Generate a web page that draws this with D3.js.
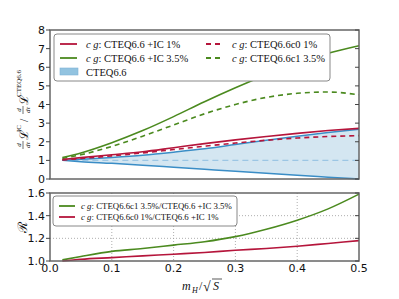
<!DOCTYPE html>
<html>
<head>
<meta charset="utf-8">
<script src="https://cdn.jsdelivr.net/npm/d3@7"></script>
<style>
  body { margin: 0; background: #fff; }
  svg { display: block; }
</style>
</head>
<body>
<div id="svgDiv"></div>
<script>
// x = m_H / sqrt(S)
var xValues = [0.02, 0.05, 0.1, 0.15, 0.2, 0.25, 0.3, 0.35, 0.4, 0.45, 0.5];

// top panel: d/dtau L ratios
var icFour = [1.15, 1.4, 1.95, 2.6, 3.35, 4.15, 4.9, 5.6, 6.25, 6.75, 7.15];   // CTEQ6.6 +IC 3.5%
var c1Four = [1.1, 1.3, 1.75, 2.3, 2.9, 3.5, 4.0, 4.38, 4.6, 4.67, 4.52];      // CTEQ6.6c1 3.5%
var icOne  = [1.05, 1.15, 1.3, 1.46, 1.68, 1.9, 2.1, 2.28, 2.45, 2.6, 2.72];   // CTEQ6.6 +IC 1%
var c0One  = [1.02, 1.1, 1.24, 1.4, 1.58, 1.76, 1.93, 2.08, 2.2, 2.28, 2.33];  // CTEQ6.6c0 1%
var bandHigh = [1.0, 1.06, 1.16, 1.28, 1.44, 1.62, 1.85, 2.08, 2.3, 2.5, 2.67];
var bandLow  = [1.0, 0.93, 0.84, 0.74, 0.63, 0.52, 0.41, 0.31, 0.2, 0.1, 0.0];

// bottom panel: R
var ratioFour = [1.01, 1.04, 1.085, 1.11, 1.14, 1.17, 1.215, 1.28, 1.36, 1.46, 1.59];
var ratioOne  = [1.0, 1.015, 1.03, 1.045, 1.06, 1.075, 1.095, 1.11, 1.13, 1.155, 1.18];

var topTicks = [0, 1, 2, 3, 4, 5, 6, 7, 8];
var botTicks = [1.0, 1.2, 1.4, 1.6];
var xTicks = [0.0, 0.1, 0.2, 0.3, 0.4, 0.5];

var width = 399, height = 299;
var red = "#b5153b", green = "#4b8a1f", blue = "#3a8dc6", bandFill = "#d4e6f1";
var serif = "'Liberation Serif', 'DejaVu Serif', serif";
var sans = "'DejaVu Sans', sans-serif";

var svg = d3.select("#svgDiv").append("svg")
    .attr("width", width).attr("height", height);

var x = d3.scaleLinear().domain([0, 0.5]).range([50, 359]);
var yTop = d3.scaleLinear().domain([0, 8]).range([179, 30]);
var yBot = d3.scaleLinear().domain([1.0, 1.6]).range([261, 193]);

function makeLine(yScale){
  return d3.line()
    .x(function(d){ return x(d[0]); })
    .y(function(d){ return yScale(d[1]); })
    .curve(d3.curveMonotoneX);
}
function pairs(vals){ return xValues.map(function(v, i){ return [v, vals[i]]; }); }

// ---- top panel ----
var topG = svg.append("g");

var area = d3.area()
    .x(function(d){ return x(d[0]); })
    .y0(function(d){ return yTop(d[1]); })
    .y1(function(d){ return yTop(d[2]); })
    .curve(d3.curveMonotoneX);
topG.append("path")
    .datum(xValues.map(function(v, i){ return [v, bandLow[i], bandHigh[i]]; }))
    .attr("d", area)
    .attr("fill", bandFill);

topG.append("line")
    .attr("x1", x(0.02)).attr("x2", x(0.5))
    .attr("y1", yTop(1)).attr("y2", yTop(1))
    .attr("stroke", "#9cc6e4").attr("stroke-width", 1.2)
    .attr("stroke-dasharray", "6,4");

[bandHigh, bandLow].forEach(function(vals){
  topG.append("path").datum(pairs(vals))
      .attr("d", makeLine(yTop))
      .attr("fill", "none").attr("stroke", blue).attr("stroke-width", 1.5);
});

var topSeries = [
  {vals: icFour, color: green, dash: null},
  {vals: c1Four, color: green, dash: "5,4"},
  {vals: icOne, color: red, dash: null},
  {vals: c0One, color: red, dash: "5,4"}
];
topSeries.forEach(function(s){
  topG.append("path").datum(pairs(s.vals))
      .attr("d", makeLine(yTop))
      .attr("fill", "none").attr("stroke", s.color).attr("stroke-width", 1.6)
      .attr("stroke-dasharray", s.dash);
});

// frame + ticks top
topG.append("rect")
    .attr("x", 50).attr("y", 30).attr("width", 309).attr("height", 149)
    .attr("fill", "none").attr("stroke", "#666").attr("stroke-width", 1.5);

topTicks.forEach(function(t){
  topG.append("line").attr("x1", 46).attr("x2", 50)
      .attr("y1", yTop(t)).attr("y2", yTop(t)).attr("stroke", "#444");
  topG.append("line").attr("x1", 355).attr("x2", 359)
      .attr("y1", yTop(t)).attr("y2", yTop(t)).attr("stroke", "#444");
  topG.append("text").attr("x", 45).attr("y", yTop(t) + 4)
      .attr("text-anchor", "end").attr("font-family", sans).attr("font-size", 11)
      .attr("fill", "#111").text(t);
});

// top legend
var leg = topG.append("g");
leg.append("rect").attr("x", 54).attr("y", 34).attr("width", 276).attr("height", 47)
   .attr("rx", 3).attr("fill", "#fff").attr("stroke", "#888").attr("stroke-width", 1);

function cgLabel(g, tx, ty, rest, size){
  var t = g.append("text").attr("x", tx).attr("y", ty)
      .attr("font-family", serif).attr("font-size", size).attr("fill", "#111");
  t.append("tspan").attr("font-style", "italic").text("c g");
  t.append("tspan").text(": " + rest);
}
var legItems = [
  {x: 60, y: 44, color: red, dash: null, text: "CTEQ6.6 +IC 1%"},
  {x: 60, y: 58, color: green, dash: null, text: "CTEQ6.6 +IC 3.5%"},
  {x: 206, y: 44, color: red, dash: "5,4", text: "CTEQ6.6c0 1%"},
  {x: 206, y: 58, color: green, dash: "5,4", text: "CTEQ6.6c1 3.5%"}
];
legItems.forEach(function(d){
  leg.append("line").attr("x1", d.x).attr("x2", d.x + 17)
     .attr("y1", d.y).attr("y2", d.y)
     .attr("stroke", d.color).attr("stroke-width", 1.8)
     .attr("stroke-dasharray", d.dash);
  cgLabel(leg, d.x + 26, d.y + 4, d.text, 10.5);
});
leg.append("rect").attr("x", 60).attr("y", 68).attr("width", 18).attr("height", 7)
   .attr("fill", "#92c3e0").attr("stroke", "#7fb3d6").attr("stroke-width", 0.6);
leg.append("text").attr("x", 86).attr("y", 76)
   .attr("font-family", serif).attr("font-size", 10.5).attr("fill", "#111").text("CTEQ6.6");

// top y label (rotated)
var yl = svg.append("g").attr("transform", "translate(26,118) rotate(-90)")
    .attr("font-family", serif).attr("fill", "#111");
function frac(g, cx){
  g.append("text").attr("x", cx).attr("y", -5).attr("text-anchor", "middle")
   .attr("font-size", 7).attr("font-style", "italic").text("d");
  g.append("line").attr("x1", cx - 4).attr("x2", cx + 4).attr("y1", -3).attr("y2", -3)
   .attr("stroke", "#111").attr("stroke-width", 0.6);
  g.append("text").attr("x", cx).attr("y", 3.5).attr("text-anchor", "middle")
   .attr("font-size", 7).attr("font-style", "italic").text("dτ");
}
frac(yl, -27);
yl.append("text").attr("x", -22).attr("y", 2).attr("font-size", 12).text("ℒ");
yl.append("text").attr("x", -14).attr("y", -5).attr("font-size", 7).text("IC");
yl.append("text").attr("x", -4).attr("y", 2).attr("font-size", 12).text("/");
frac(yl, 8);
yl.append("text").attr("x", 13).attr("y", 2).attr("font-size", 12).text("ℒ");
yl.append("text").attr("x", 21).attr("y", -5).attr("font-size", 7).text("CTEQ6.6");

// ---- bottom panel ----
var botG = svg.append("g");

xTicks.slice(1, -1).forEach(function(t){
  botG.append("line").attr("x1", x(t)).attr("x2", x(t)).attr("y1", 193).attr("y2", 261)
      .attr("stroke", "#999").attr("stroke-width", 0.8).attr("stroke-dasharray", "1,2");
});
botTicks.slice(1, -1).forEach(function(t){
  botG.append("line").attr("x1", 50).attr("x2", 359).attr("y1", yBot(t)).attr("y2", yBot(t))
      .attr("stroke", "#999").attr("stroke-width", 0.8).attr("stroke-dasharray", "1,2");
});

[{vals: ratioFour, color: green}, {vals: ratioOne, color: red}].forEach(function(s){
  botG.append("path").datum(pairs(s.vals))
      .attr("d", makeLine(yBot))
      .attr("fill", "none").attr("stroke", s.color).attr("stroke-width", 1.6);
});

botG.append("rect")
    .attr("x", 50).attr("y", 193).attr("width", 309).attr("height", 68)
    .attr("fill", "none").attr("stroke", "#666").attr("stroke-width", 1.5);

botTicks.forEach(function(t){
  botG.append("line").attr("x1", 46).attr("x2", 50)
      .attr("y1", yBot(t)).attr("y2", yBot(t)).attr("stroke", "#444");
  botG.append("line").attr("x1", 355).attr("x2", 359)
      .attr("y1", yBot(t)).attr("y2", yBot(t)).attr("stroke", "#444");
  botG.append("text").attr("x", 45).attr("y", yBot(t) + 4)
      .attr("text-anchor", "end").attr("font-family", sans).attr("font-size", 11)
      .attr("fill", "#111").text(t.toFixed(1));
});
xTicks.forEach(function(t){
  botG.append("text").attr("x", x(t)).attr("y", 272)
      .attr("text-anchor", "middle").attr("font-family", sans).attr("font-size", 11)
      .attr("fill", "#111").text(t.toFixed(1));
});

// bottom legend
var leg2 = botG.append("g");
leg2.append("rect").attr("x", 53).attr("y", 196).attr("width", 184).attr("height", 30)
    .attr("rx", 3).attr("fill", "#fff").attr("stroke", "#888").attr("stroke-width", 1);
[{y: 206, color: green, text: "CTEQ6.6c1 3.5%/CTEQ6.6 +IC 3.5%"},
 {y: 217, color: red, text: "CTEQ6.6c0 1%/CTEQ6.6 +IC 1%"}].forEach(function(d){
  leg2.append("line").attr("x1", 59).attr("x2", 75).attr("y1", d.y).attr("y2", d.y)
      .attr("stroke", d.color).attr("stroke-width", 1.8);
  cgLabel(leg2, 81, d.y + 3, d.text, 8.8);
});

// bottom y label
svg.append("text").attr("transform", "translate(27,227) rotate(-90)")
   .attr("text-anchor", "middle").attr("font-family", serif).attr("font-size", 13)
   .attr("fill", "#111").text("ℛ");

// x label
var xl = svg.append("g").attr("font-family", serif).attr("fill", "#111");
xl.append("text").attr("x", 182).attr("y", 290).attr("font-size", 12)
  .attr("font-style", "italic").text("m");
xl.append("text").attr("x", 192).attr("y", 293).attr("font-size", 8)
  .attr("font-style", "italic").text("H");
xl.append("text").attr("x", 199).attr("y", 290).attr("font-size", 12).text("/");
xl.append("text").attr("x", 203).attr("y", 291).attr("font-size", 14).text("√");
xl.append("line").attr("x1", 212).attr("x2", 222).attr("y1", 279).attr("y2", 279)
  .attr("stroke", "#111").attr("stroke-width", 0.7);
xl.append("text").attr("x", 213).attr("y", 290).attr("font-size", 12)
  .attr("font-style", "italic").text("S");
</script>
</body>
</html>
